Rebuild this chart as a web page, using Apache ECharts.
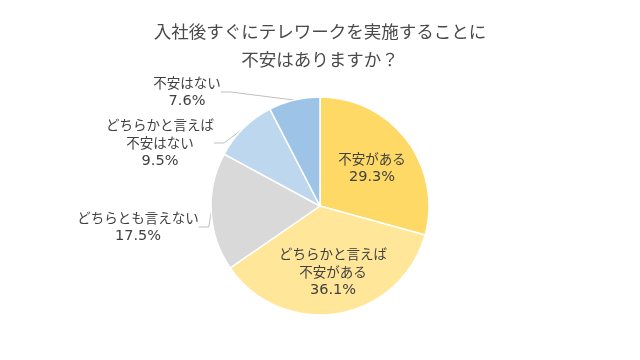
<!DOCTYPE html>
<html><head><meta charset="utf-8">
<script src="https://cdn.jsdelivr.net/npm/echarts@6/dist/echarts.min.js"></script>
<style>html,body{margin:0;padding:0;background:#fff}#c{width:640px;height:360px}</style>
</head><body><div id="c"></div>
<script>
const titleText = '入社後すぐにテレワークを実施することに\n不安はありますか？';
const categories = ['不安がある', 'どちらかと言えば\n不安がある', 'どちらとも言えない', 'どちらかと言えば\n不安はない', '不安はない'];
const values = [29.3, 36.1, 17.5, 9.5, 7.6];
const colors = ['#FFD966', '#FFE699', '#D9D9D9', '#BDD7EE', '#9DC3E6'];
const inside = [true, true, false, false, false];

const chart = echarts.init(document.getElementById('c'));
const font = '"Noto Sans CJK JP", "Noto Sans", sans-serif';
const labelPos = [
  {x: 372, y: 168},
  {x: 333, y: 272},
  {x: 138, y: 227},
  {x: 160, y: 143},
  {x: 187, y: 92}
];
chart.setOption({
  animation: false,
  title: {
    text: titleText, left: 'center', top: 12,
    textStyle: {fontFamily: font, fontSize: 17.5, fontWeight: 'normal', color: '#4A4A4A', lineHeight: 28.5}
  },
  series: [{
    type: 'pie',
    center: [320, 206],
    radius: [0, 109],
    startAngle: 90,
    clockwise: true,
    itemStyle: {borderColor: '#fff', borderWidth: 1.5},
    label: {
      fontFamily: font, fontSize: 13.5, color: '#404040', lineHeight: 18,
      formatter: p => p.name.split('\n').map(s => '{t|' + s + '}').join('\n') + '\n{p|' + p.value.toFixed(1) + '%}',
      rich: {
        t: {fontFamily: font, fontSize: 13.5, color: '#404040', lineHeight: 18},
        p: {fontFamily: '"DejaVu Sans", sans-serif', fontSize: 14.5, color: '#404040', lineHeight: 18}
      }
    },
    labelLine: {lineStyle: {color: '#BFBFBF', width: 1}, length: 10, length2: 10},
    labelLayout: function (params) {
      const p = labelPos[params.dataIndex];
      return {x: p.x, y: p.y, align: 'center', verticalAlign: 'middle'};
    },
    data: categories.map((c, i) => ({
      name: c, value: values[i],
      itemStyle: {color: colors[i]},
      label: {position: inside[i] ? 'inside' : 'outside'},
      labelLine: {show: !inside[i]}
    }))
  }]
});
</script></body></html>
